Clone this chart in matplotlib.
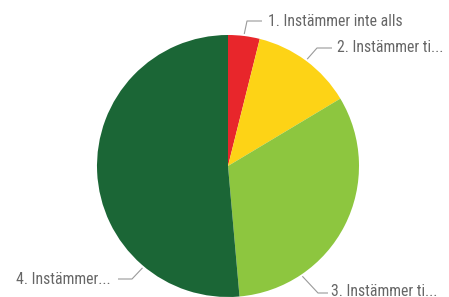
import numpy as np
import matplotlib
matplotlib.use("Agg")
import matplotlib.pyplot as plt
from matplotlib import font_manager

categories = ["1. Instämmer inte alls", "2. Instämmer ti...", "3. Instämmer ti...", "4. Instämmer..."]
values = [3.9, 12.5, 32.2, 51.4]
colors = ["#E8262B", "#FDD316", "#8DC63F", "#1B6636"]

avail = {f.name for f in font_manager.fontManager.ttflist}
fam = [f for f in ["Liberation Sans Narrow", "Roboto Condensed", "Open Sans Condensed", "Roboto", "DejaVu Sans"] if f in avail]

W, H = 449, 297
fig = plt.figure(figsize=(W / 100, H / 100), dpi=100)
ax = fig.add_axes([0, 0, 1, 1])

cx, cy, r = 228, 131, 131
ax.pie(values, colors=colors, startangle=90, counterclock=False,
       center=(cx, cy), radius=r, frame=True,
       wedgeprops=dict(linewidth=0))
ax.set_xlim(0, W)
ax.set_ylim(0, H)
ax.set_aspect("equal")
ax.axis("off")

# label layout: anchor angle on circle, elbow point, end point, text pos, alignment
cum = np.cumsum([0] + values) / sum(values)
mid = [90 - 360 * (cum[i] + cum[i + 1]) / 2 for i in range(4)]
anchor_angles = [mid[0], mid[1], -56, -130]
layout = [
    ((247, 276), (262, 276), (268, 276), "left", "center"),
    ((317, 249), (332, 249), (337, 249), "left", "center"),
    ((318, 4), (328, 4), (331, 1.5), "left", "baseline"),
    ((132, 18), (118, 18), (111, 18), "right", "center"),
]
for i, (elbow, end, tpos, ha, va) in enumerate(layout):
    a = np.deg2rad(anchor_angles[i])
    sx, sy = cx + (r + 2) * np.cos(a), cy + (r + 2) * np.sin(a)
    ax.plot([sx, elbow[0], end[0]], [sy, elbow[1], end[1]], color="#9a9a9a", lw=0.8,
            solid_capstyle="butt")
    ax.text(tpos[0], tpos[1], categories[i], ha=ha, va=va, fontsize=11.3,
            color="#666666", family=fam)

fig.savefig("out.png", dpi=100)
